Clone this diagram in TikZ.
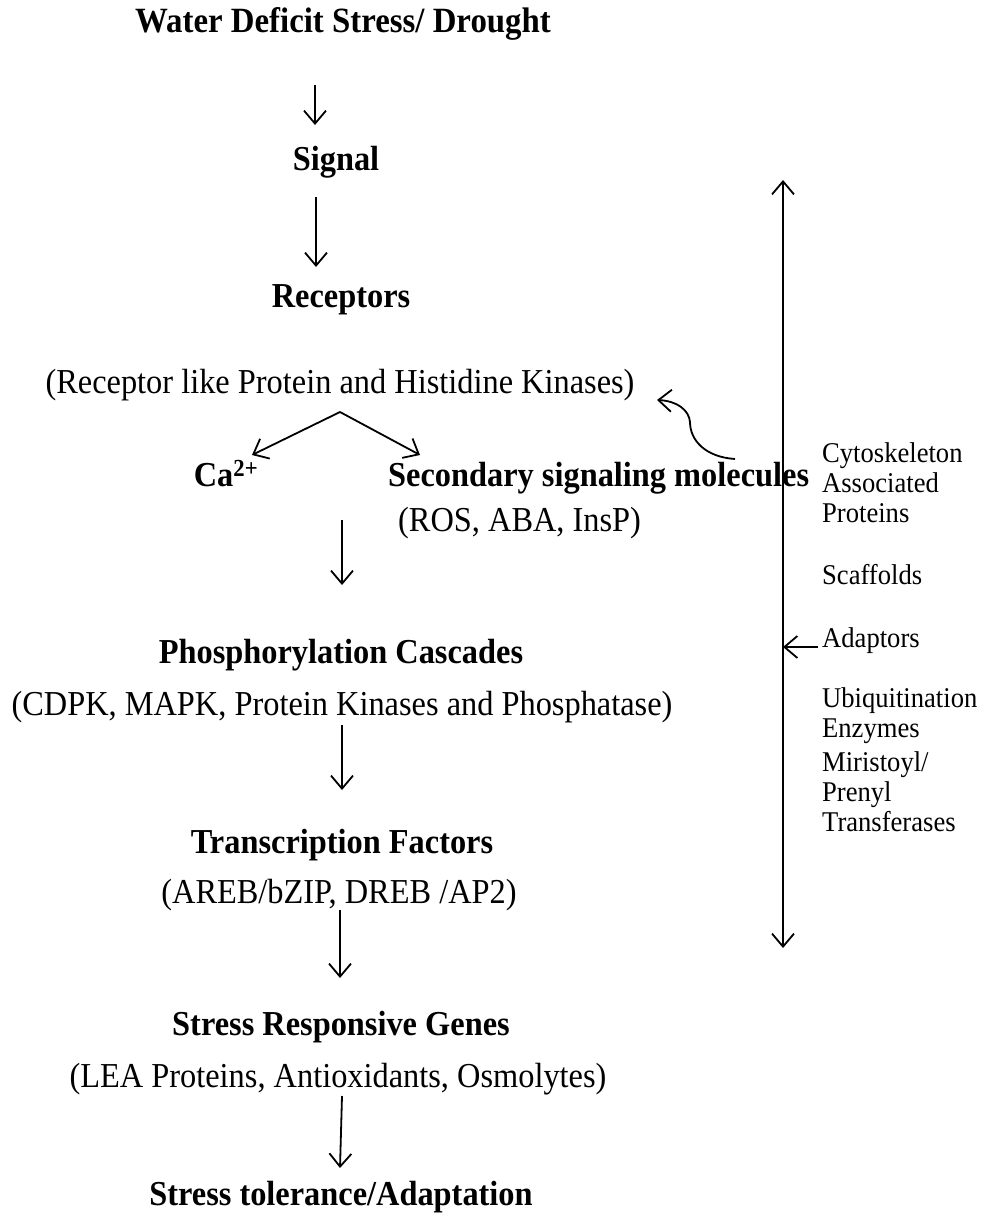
\documentclass[tikz,border=0pt]{standalone}
\usepackage{fontspec}
\setmainfont{Liberation Serif}
\usetikzlibrary{arrows.meta}
\tikzset{
  lbl/.style={inner sep=0pt, anchor=base, xscale=0.925, transform shape, font=\fontsize{35}{38}\selectfont},
  blbl/.style={lbl, font=\fontsize{35}{38}\selectfont\bfseries},
  side/.style={inner sep=0pt, anchor=base west, xscale=0.93, transform shape, font=\fontsize{28.6}{32}\selectfont},
  arr/.style={line width=1.8pt, >={Straight Barb[length=13pt,width=22pt,line width=1.8pt]}, ->},
  darr/.style={line width=1.8pt, >={Straight Barb[length=13pt,width=22pt,line width=1.8pt]}, <->}
}
\begin{document}
\begin{tikzpicture}[x=1pt,y=-1pt]
\useasboundingbox (0,0) rectangle (990,1218);
% left column
\node[blbl, font=\fontsize{35.5}{38}\selectfont\bfseries] (title) at (343,32) {Water Deficit Stress/ Drought};
\node[blbl] (signal) at (336,170) {Signal};
\node[blbl] (rec) at (341,307) {Receptors};
\node[lbl] (recl) at (340,393) {(Receptor like Protein and Histidine Kinases)};
\node[blbl] (ca) at (226,486) {Ca\textsuperscript{2+}};
\node[blbl, anchor=base west] (sec) at (388,486) {Secondary signaling molecules};
\node[lbl, anchor=base west] (ros) at (398,531) {(ROS, ABA, InsP)};
\node[blbl] (phos) at (341,663) {Phosphorylation Cascades};
\node[lbl] (cdpk) at (342,715) {(CDPK, MAPK, Protein Kinases and Phosphatase)};
\node[blbl] (tf) at (342,853) {Transcription Factors};
\node[lbl] (areb) at (339,903) {(AREB/bZIP, DREB /AP2)};
\node[blbl] (srg) at (341,1035) {Stress Responsive Genes};
\node[lbl] (lea) at (338,1087) {(LEA Proteins, Antioxidants, Osmolytes)};
\node[blbl] (stol) at (341,1205) {Stress tolerance/Adaptation};
% right column
\node[side] (cyt1) at (822,462) {Cytoskeleton};
\node[side] (cyt2) at (822,492) {Associated};
\node[side] (cyt3) at (822,522) {Proteins};
\node[side] (scaf) at (822,584) {Scaffolds};
\node[side] (adap) at (822,647) {Adaptors};
\node[side] (ubi1) at (822,707) {Ubiquitination};
\node[side] (ubi2) at (822,737) {Enzymes};
\node[side] (mir1) at (822,771) {Miristoyl/};
\node[side] (mir2) at (822,801) {Prenyl};
\node[side] (mir3) at (822,831) {Transferases};
% coordinates
\coordinate (a1s) at (315,85);   \coordinate (a1e) at (315,125);
\coordinate (a2s) at (316,197);  \coordinate (a2e) at (316,267);
\coordinate (bs)  at (340,412);  \coordinate (bl) at (252,455); \coordinate (br) at (420,455);
\coordinate (a3s) at (342,520);  \coordinate (a3e) at (342,585);
\coordinate (a4s) at (342,725);  \coordinate (a4e) at (342,790);
\coordinate (a5s) at (340,910);  \coordinate (a5e) at (340,978);
\coordinate (a6s) at (342,1096); \coordinate (a6e) at (340,1168);
\coordinate (vt) at (783,180);   \coordinate (vb) at (783,948);
\coordinate (ads) at (818,647);  \coordinate (ad) at (783,647);
\coordinate (cs) at (735,459);   \coordinate (ce) at (657,400);
% arrows
\draw[arr] (a1s) -- (a1e);
\draw[arr] (a2s) -- (a2e);
\draw[arr] (bs) -- (bl);
\draw[arr] (bs) -- (br);
\draw[arr] (a3s) -- (a3e);
\draw[arr] (a4s) -- (a4e);
\draw[arr] (a5s) -- (a5e);
\draw[arr] (a6s) -- (a6e);
\draw[darr] (vt) -- (vb);
\draw[arr] (ads) -- (ad);
\draw[arr] (cs) .. controls (705,457) and (690,440) .. (690,422) .. controls (689,410) and (677,401) .. (ce);
\end{tikzpicture}
\end{document}
